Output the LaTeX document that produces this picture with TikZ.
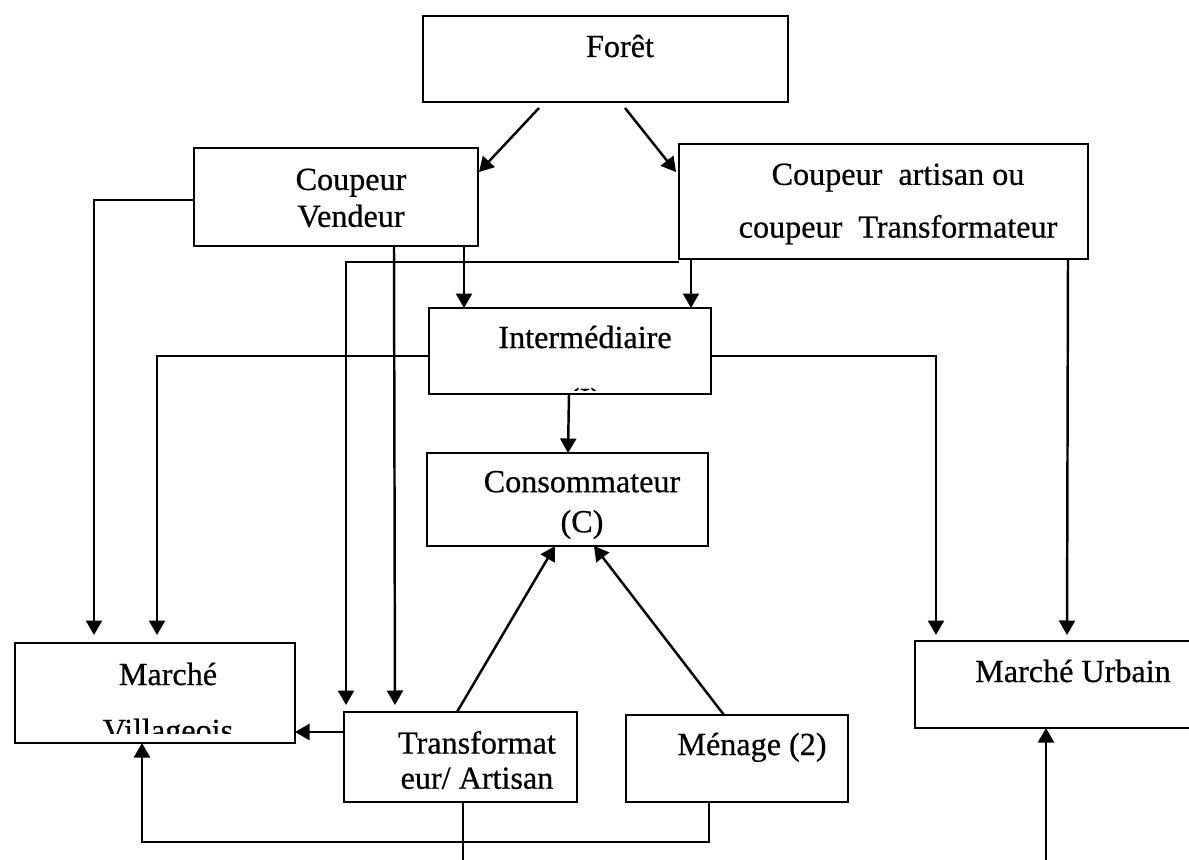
\documentclass[tikz,border=0pt]{standalone}
\usepackage{fontspec}
\setmainfont{Liberation Serif}[FakeBold=0.6]
\usetikzlibrary{arrows.meta,calc}
\begin{document}
\begin{tikzpicture}[x=0.2mm,y=-0.2mm,
    every node/.style={font=\fontsize{18.3}{21}\selectfont},
    box/.style 2 args={draw,line width=1.5pt,minimum width=#1*0.2mm,minimum height=#2*0.2mm,inner sep=0pt,outer sep=0pt},
    lbl/.style={align=center,inner sep=0pt},
    lin/.style={line width=1.4pt},
    arr/.style={lin,-{Triangle[length=2.9mm,width=3.2mm]}}]
  \useasboundingbox (0,0) rectangle (1189,860);
  \draw (605.5,59) node[box={365}{86}] (foret) {};
  \draw (336,197) node[box={284}{98}] (cv) {};
  \draw (883.5,201.5) node[box={409}{115}] (ca) {};
  \draw (570,351) node[box={282}{86}] (inter) {};
  \draw (567.5,499.5) node[box={281}{93}] (cons) {};
  \draw (155,693) node[box={280}{100}] (mv) {};
  \draw (460.5,757) node[box={233}{90}] (tr) {};
  \draw (737,758.5) node[box={222}{87}] (men) {};
  \draw (1070,684.5) node[box={310}{87}] (mu) {};
  \draw (620,57) node[lbl,anchor=base] (foretlbl) {Forêt};
  \draw (351,198) node[lbl,font=\fontsize{18.3}{21}\selectfont] (cvlbl) {Coupeur\\Vendeur};
  \draw (898,204) node[lbl,font=\fontsize{18.3}{30}\selectfont] (calbl) {Coupeur\ \ artisan ou\\coupeur\ \ Transformateur};
  \draw (585,348) node[lbl,anchor=base] (interlbl) {Intermédiaire};
  \draw (582,505) node[lbl,font=\fontsize{18.3}{22.8}\selectfont] (conslbl) {Consommateur\\(C)};
  \draw (168,685) node[lbl,anchor=base] (mvlbl) {Marché};
  \draw (477,760) node[lbl,font=\fontsize{18.3}{20}\selectfont] (trlbl) {Transformat\\eur/ Artisan};
  \draw (752,755) node[lbl,anchor=base] (menlbl) {Ménage (2)};
  \draw (1073,682) node[lbl,anchor=base] (mulbl) {Marché Urbain};
  \begin{scope}
    \clip (mv.north west) rectangle ($(mv.south east)+(0,-10)$);
    \draw (168,741) node[lbl,anchor=base] (mvlbltwo) {Villageois};
  \end{scope}
  \begin{scope}
    \clip (inter.north west) rectangle ($(inter.south east)+(0,-4)$);
    \draw (585,410) node[lbl,anchor=base] (interlbltwo) {(I)};
  \end{scope}
  \draw[arr] ($(foret.south west)+(116,6)$) -- ($(cv.north east)+(1,24)$);
  \draw[arr] ($(foret.south west)+(202,6)$) -- ($(ca.north west)+(-3,28)$);
  \draw[arr,shorten >=1.6mm] ($(cv.north west)+(0,52)$) -| ($(mv.north west)+(79,0)$);
  \draw[arr,shorten >=1.4mm] ($(cv.south west)+(200,0)$) -- ($(tr.north west)+(51,0)$);
  \draw[arr] ($(cv.south west)+(270,0)$) -- ($(inter.north west)+(35,0)$);
  \draw[arr,shorten >=1.4mm] ($(ca.south west)+(0,3)$) -| ($(tr.north west)+(2,0)$);
  \draw[arr] ($(ca.south west)+(12,0)$) -- ($(inter.north east)+(-20,0)$);
  \draw[arr,shorten >=1.2mm] ($(ca.south east)+(-20,0)$) -- ($(mu.north west)+(152,0)$);
  \draw[arr,shorten >=1.6mm] ($(inter.north west)+(0,48)$) -| ($(mv.north west)+(142,0)$);
  \draw[arr,shorten >=1.2mm] ($(inter.north east)+(0,48)$) -| ($(mu.north west)+(21,0)$);
  \draw[arr] ($(inter.south west)+(140,0)$) -- ($(cons.north west)+(141,0)$);
  \draw[arr] ($(tr.north west)+(0,20)$) -- ($(mv.north east)+(0,89)$);
  \draw[arr] ($(tr.north west)+(113,0)$) -- ($(cons.south west)+(128,0)$);
  \draw[arr] ($(men.north west)+(98,0)$) -- ($(cons.south west)+(167,0)$);
  \draw[arr] ($(men.south west)+(83,0)$) -- ++(0,40) -| ($(mv.south west)+(127,0)$);
  \coordinate (trout) at (463,870);
  \draw[lin] ($(tr.south west)+(119,0)$) -- (trout);
  \coordinate (muin) at (1046,870);
  \draw[arr] (muin) -- ($(mu.south west)+(131,0)$);
\end{tikzpicture}
\end{document}
